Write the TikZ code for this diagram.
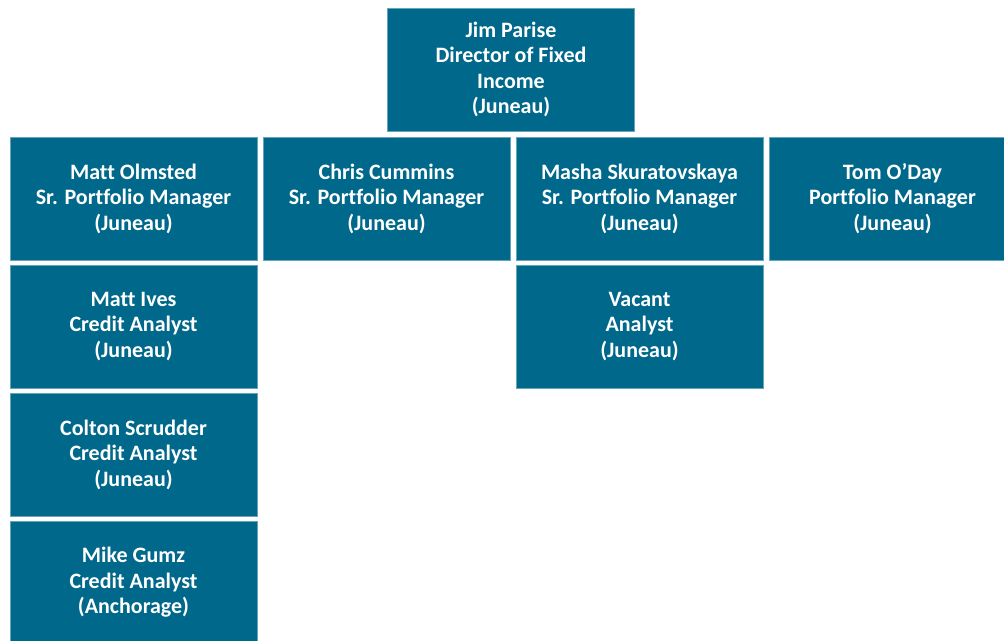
\documentclass[tikz,border=0pt]{standalone}
\usepackage{fontspec}
\setmainfont{Carlito}[Ligatures={NoCommon}]
\usepackage{xcolor}
\usepackage{tikz}
\usetikzlibrary{positioning}
\definecolor{orgblue}{RGB}{0,104,138}
\tikzstyle{person} = [rectangle, minimum width=247pt, minimum height=123pt, inner sep=0pt, outer sep=0pt, text centered, align=center, fill=orgblue, draw=orgblue!60!white, line width=0.6pt, text=white, font=\fontsize{22}{25.5}\selectfont\bfseries]

\begin{document}
\begin{tikzpicture}[node distance=5pt and 6pt]
    \useasboundingbox (0,0) rectangle (1004pt,-640pt);
    \clip (0,0) rectangle (1004pt,-640pt);

    % Director
    \node (jim) [person] at (511pt,-69.5pt) {Jim Parise\\Director of Fixed\\Income\\(Juneau)};

    % Portfolio managers
    \node (olmsted) [person] at (133.5pt,-198.5pt) {Matt Olmsted\\Sr. Portfolio Manager\\(Juneau)};
    \node (cummins) [person, right=of olmsted] {Chris Cummins\\Sr. Portfolio Manager\\(Juneau)};
    \node (masha) [person, right=of cummins] {Masha Skuratovskaya\\Sr. Portfolio Manager\\(Juneau)};
    \node (oday) [person, right=of masha] {Tom O'Day\\Portfolio Manager\\(Juneau)};

    % Analysts
    \node (ives) [person, below=of olmsted] {Matt Ives\\Credit Analyst\\(Juneau)};
    \node (scrudder) [person, below=of ives] {Colton Scrudder\\Credit Analyst\\(Juneau)};
    \node (gumz) [person, below=of scrudder] {Mike Gumz\\Credit Analyst\\(Anchorage)};
    \node (vacant) [person, below=of masha] {Vacant\\Analyst\\(Juneau)};
\end{tikzpicture}
\end{document}
